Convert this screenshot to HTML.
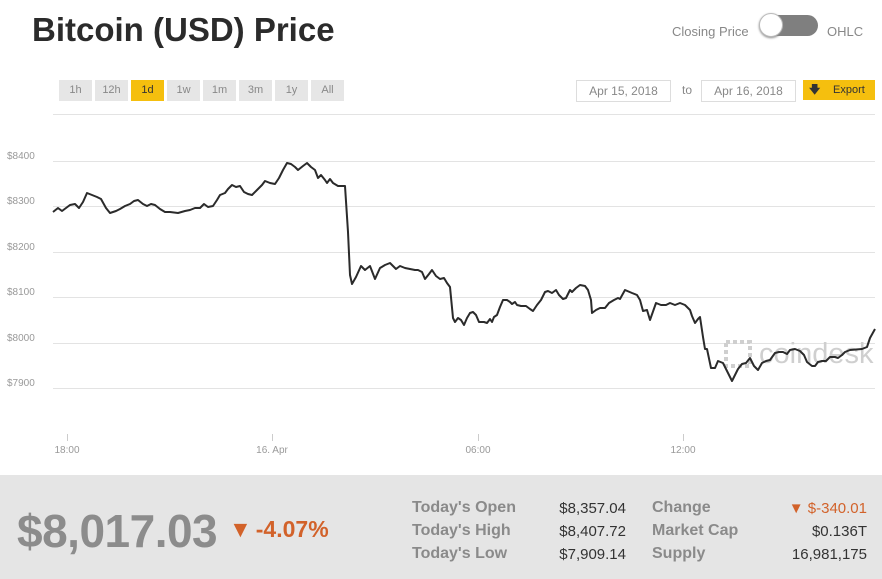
<!DOCTYPE html>
<html><head><meta charset="utf-8"><style>
body{margin:0;width:882px;height:579px;background:#fff;font-family:"Liberation Sans",sans-serif;position:relative;overflow:hidden}
.a{position:absolute;white-space:nowrap}
.btn{position:absolute;top:80px;width:33px;height:21px;background:#e6e6e6;color:#888;font-size:11px;text-align:center;line-height:21px}
.box{position:absolute;top:80px;height:20px;border:1px solid #ddd;color:#888;font-size:12px;text-align:center;line-height:20px}
.lab{color:#8a8a8a;font-weight:bold;font-size:16px}
.val{color:#333;font-size:15px;text-align:right}
</style></head><body>
<div class="a" style="left:32px;top:11px;font-size:33px;font-weight:bold;color:#2b2b2b">Bitcoin (USD) Price</div>
<div class="a" style="left:672px;top:24px;font-size:13px;color:#888">Closing Price</div>
<div class="a" style="left:760px;top:15px;width:58px;height:21px;border-radius:11px;background:#7f7f7f"></div>
<div class="a" style="left:759px;top:13px;width:22px;height:22px;border-radius:50%;background:#fff;border:1px solid #bbb;box-shadow:0 1px 2px #888"></div>
<div class="a" style="left:827px;top:24px;font-size:13px;color:#888">OHLC</div>
<div class="btn" style="left:59px">1h</div>
<div class="btn" style="left:95px">12h</div>
<div class="btn" style="left:131px;background:#f5bf0e;color:#333">1d</div>
<div class="btn" style="left:167px">1w</div>
<div class="btn" style="left:203px">1m</div>
<div class="btn" style="left:239px">3m</div>
<div class="btn" style="left:275px">1y</div>
<div class="btn" style="left:311px">All</div>
<div class="box" style="left:576px;width:93px">Apr 15, 2018</div>
<div class="a" style="left:682px;top:83px;font-size:12px;color:#888">to</div>
<div class="box" style="left:701px;width:93px">Apr 16, 2018</div>
<div class="a" style="left:803px;top:80px;width:72px;height:20px;background:#f5bf0e;font-size:11px;color:#333;line-height:20px"><span style="margin-left:6px;font-weight:bold">&#x1F847;</span><span style="position:absolute;left:30px">Export</span></div>
<svg class="a" style="left:0;top:0" width="882" height="470">
<g stroke="#e3e3e3" stroke-width="1">
<line x1="53" y1="114.5" x2="875" y2="114.5"/>
<line x1="53" y1="161.5" x2="875" y2="161.5"/>
<line x1="53" y1="206.5" x2="875" y2="206.5"/>
<line x1="53" y1="252.5" x2="875" y2="252.5"/>
<line x1="53" y1="297.5" x2="875" y2="297.5"/>
<line x1="53" y1="343.5" x2="875" y2="343.5"/>
<line x1="53" y1="388.5" x2="875" y2="388.5"/>
</g>
<g fill="#999" font-size="10" font-family="Liberation Sans">
<text x="7" y="159">$8400</text><text x="7" y="204">$8300</text><text x="7" y="250">$8200</text>
<text x="7" y="295">$8100</text><text x="7" y="341">$8000</text><text x="7" y="386">$7900</text>
<text x="67" y="453" text-anchor="middle">18:00</text><text x="272" y="453" text-anchor="middle">16. Apr</text>
<text x="478" y="453" text-anchor="middle">06:00</text><text x="683" y="453" text-anchor="middle">12:00</text>
</g>
<g stroke="#ccc"><line x1="67.5" y1="434" x2="67.5" y2="441"/><line x1="272.5" y1="434" x2="272.5" y2="441"/><line x1="478.5" y1="434" x2="478.5" y2="441"/><line x1="683.5" y1="434" x2="683.5" y2="441"/></g>
<text x="759" y="363" font-size="29" fill="#cfcfcf" font-family="Liberation Sans">coindesk</text>
<rect x="726" y="342" width="24" height="24" fill="none" stroke="#cfcfcf" stroke-width="4" stroke-dasharray="4 3"/>
<polyline fill="none" stroke="#2b2b2b" stroke-width="2" stroke-linejoin="round" points="53,212 58,208 62,211 66,208 70,205 75,204 79,208 83,202 87,193 92,195 97,197 101,199 106,208 110,213 116,211 120,209 125,206 130,204 134,201 138,200 143,204 147,206 151,204 155,205 160,209 165,212 170,212 178,213 185,211 190,210 195,208 200,208 204,204 208,207 213,206 217,200 220,195 225,193 228,189 232,185 236,187 240,186 244,192 248,194 252,195 257,190 262,185 265,181 270,183 275,184 279,178 283,170 287,163 291,164 295,167 298,170 303,166 307,163 311,167 315,170 318,178 321,175 325,180 327,183 330,179 333,183 338,186 342,186 345,186 348,232 350,275 352,284 356,277 361,266 365,270 370,266 375,279 380,268 385,265 390,263 396,269 400,266 405,268 410,269 415,270 418,270 422,272 425,279 429,274 432,270 436,276 440,279 444,278 447,283 450,287 453,318 455,322 458,318 461,320 464,325 467,318 470,313 473,312 476,315 479,322 484,322 487,323 490,319 492,322 494,317 497,315 500,307 503,300 507,300 510,302 512,304 515,302 517,305 521,306 526,306 530,309 533,311 537,305 541,300 545,292 548,291 552,293 556,290 559,295 563,299 566,298 570,290 572,292 576,288 580,285 585,286 588,290 591,300 592,313 596,310 600,308 605,308 609,303 614,300 618,298 620,299 625,290 632,293 637,295 640,300 643,311 647,310 650,320 656,303 661,305 666,305 670,303 675,305 680,303 685,305 690,310 692,316 695,323 698,319 700,317 703,337 705,349 707,349 711,368 715,368 718,361 723,363 728,373 732,381 735,375 738,369 742,364 746,363 750,358 754,366 758,370 762,363 766,361 770,360 775,353 779,352 783,352 787,354 790,350 795,349 800,351 804,355 807,362 812,366 815,366 818,362 822,361 826,361 830,357 835,357 838,358 842,355 845,352 850,350 862,349 867,347 870,338 875,329"/>
</svg>
<div class="a" style="left:0;top:475px;width:882px;height:104px;background:#e5e5e5"></div>
<div class="a" style="left:17px;top:504px;font-size:46px;font-weight:bold;color:#8c8c8c;letter-spacing:-0.5px">$8,017.03</div>
<div class="a" style="left:229px;top:516px;font-size:23px;font-weight:bold;color:#d2622a">&#9660;<span style="margin-left:4px">-4.07%</span></div>
<div class="a lab" style="left:412px;top:499px">Today's Open</div>
<div class="a lab" style="left:412px;top:522px">Today's High</div>
<div class="a lab" style="left:412px;top:545px">Today's Low</div>
<div class="a val" style="left:520px;width:106px;top:500px">$8,357.04</div>
<div class="a val" style="left:520px;width:106px;top:523px">$8,407.72</div>
<div class="a val" style="left:520px;width:106px;top:546px">$7,909.14</div>
<div class="a lab" style="left:652px;top:499px">Change</div>
<div class="a lab" style="left:652px;top:522px">Market Cap</div>
<div class="a lab" style="left:652px;top:545px">Supply</div>
<div class="a val" style="left:740px;width:127px;top:500px;color:#d2622a">&#9660; $-340.01</div>
<div class="a val" style="left:740px;width:127px;top:523px">$0.136T</div>
<div class="a val" style="left:740px;width:127px;top:546px">16,981,175</div>
</body></html>
